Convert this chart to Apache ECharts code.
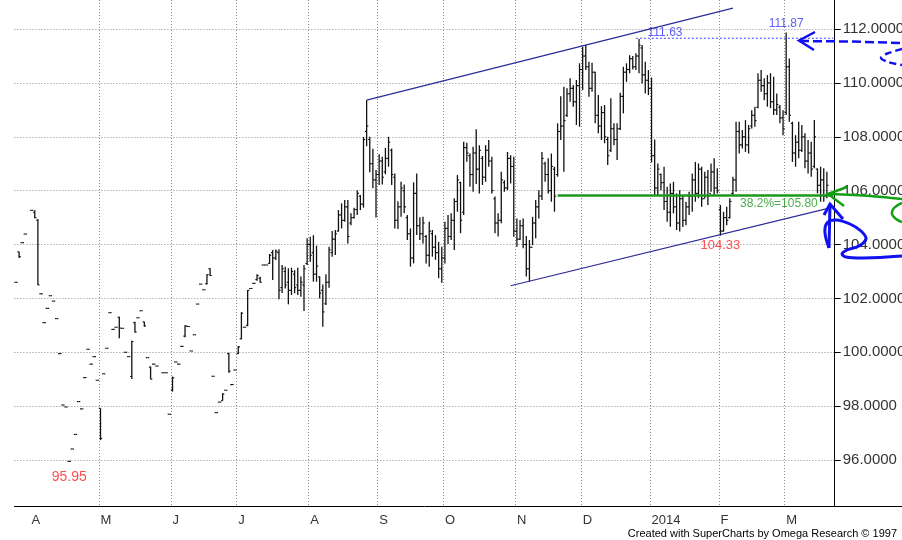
<!DOCTYPE html>
<html>
<head>
<meta charset="utf-8">
<script src="https://cdn.jsdelivr.net/npm/echarts@6/dist/echarts.min.js"></script>
<style>
  html, body { margin: 0; padding: 0; background: #fff; }
  #chart { width: 902px; height: 540px; }
</style>
</head>
<body>
<div id="chart"></div>
<script>
// month labels on the time axis and how many bars fall in each month
const monthLabels = ['', 'A', 'M', 'J', 'J', 'A', 'S', 'O', 'N', 'D', '2014', 'F', 'M'];
const monthBars = [5, 22, 23, 21, 23, 22, 21, 23, 21, 22, 22, 21, 14];

// daily bars (null = no bar that day)
const highs = [
  102.6, 103.73, 104.07, 104.39, null, 105.27, 105.27, 104.95, 102.17, 101.1,
  101.63, 102.1, 101.9, 101.25, 99.95, 98.04, 97.97, 95.95, 96.41, 96.95,
  98.17, 97.9, 99.06, 100.11, 99.56, 99.84, 98.96, 97.92, 99.2, 100.15,
  101.47, 100.85, 100.93, 101.32, 100.89, 100.0, 99.84, 100.43, 101.13, 101.28,
  101.54, 101.13, 99.8, 99.47, 99.56, 99.49, null, 99.24, 99.24, 97.7,
  99.1, 99.64, 99.56, 100.22, 101.0, 100.96, 100.05, 100.65, 101.79, 102.53,
  102.32, 102.9, 103.12, 99.11, 97.76, 98.15, 98.48, 98.59, 99.98, 98.8,
  99.34, 100.23, 101.49, 100.93, 102.31, 102.37, 102.56, 102.9, 102.8, 103.24,
  103.24, 103.65, 103.8, 103.82, 103.83, 103.24, 103.18, 103.12, 103.14, 103.05,
  103.14, 102.81, 103.24, 104.23, 104.29, 104.35, 103.96, 102.81, 102.52, 102.9,
  103.92, 104.5, 104.54, 105.28, 105.53, 105.65, 105.65, 105.16, 105.37, 106.02,
  105.84, 108.0, 109.36, 108.0, 107.56, 106.77, 107.35, 107.26, 107.59, 108.0,
  107.57, 106.64, 105.61, 106.33, 106.23, 105.1, 104.6, 106.31, 106.64, 105.01,
  105.03, 104.35, 104.85, 104.54, 104.35, 104.1, 103.92, 104.85, 105.1, 105.16,
  105.72, 106.58, 106.33, 107.82, 107.78, 107.38, 107.63, 108.28, 107.69, 107.29,
  107.69, 107.88, 107.26, 105.78, 105.16, 106.7, 106.39, 107.44, 107.32, 107.26,
  104.97, 104.91, 104.97, 104.32, 104.17, 105.03, 105.65, 106.02, 107.44, 107.07,
  107.2, 107.38, 106.89, 108.5, 109.51, 109.86, 109.8, 110.17, 109.92, 110.11,
  110.73, 111.34, 111.41, 110.79, 110.75, 110.42, 109.55, 109.14, 109.18, 108.0,
  109.43, 108.5, 108.5, 109.64, 110.6, 110.73, 111.03, 111.0, 111.1, 111.63,
  111.41, 110.79, 110.48, 110.2, 107.9, 107.01, 106.64, 106.89, 106.15, 106.27,
  106.33, 105.9, 106.02, 105.8, 105.59, 105.96, 106.64, 107.07, 107.01, 106.89,
  106.7, 106.77, 107.01, 107.2, 106.83, 105.47, 105.22, 105.4, 105.72, 106.52,
  108.56, 108.56, 108.25, 108.62, 108.44, 108.99, 109.12, 110.36, 110.48, 110.17,
  110.29, 110.36, 110.23, 109.61, 109.18, 108.99, 111.87, 110.91, 108.56, 108.06,
  108.56, 108.44, 108.13, 107.88, 107.82, 108.62, 106.83, 106.89, 106.83, 106.7
];
const lows = [
  102.6, 103.5, 104.07, 104.39, null, 105.27, 104.98, 102.5, 102.17, 101.1,
  101.63, 102.1, 101.9, 101.25, 99.95, 98.04, 97.97, 95.95, 96.41, 96.95,
  98.17, 97.9, 99.06, 100.11, 99.56, 99.84, 98.96, 96.74, 99.2, 100.15,
  101.47, 100.85, 100.93, 100.52, 100.89, 100.0, 99.84, 99.01, 100.73, 101.28,
  101.54, 100.95, 99.8, 99.0, 99.56, 99.49, null, 99.24, 99.24, 97.7,
  98.54, 99.64, 99.56, 100.22, 100.56, 100.96, 100.05, 100.65, 101.79, 102.53,
  102.32, 102.52, 102.83, 99.11, 97.76, 98.15, 98.2, 98.59, 99.24, 98.8,
  99.34, 99.94, 100.48, 100.93, 100.97, 102.37, 102.56, 102.66, 102.58, 103.24,
  103.24, 103.28, 102.68, 103.43, 101.97, 102.2, 102.37, 101.78, 102.13, 102.19,
  102.13, 102.06, 101.53, 103.24, 103.36, 102.62, 102.62, 102.0, 100.95, 101.76,
  102.4, 103.55, 103.61, 104.48, 104.6, 104.85, 104.04, 104.72, 104.97, 105.1,
  105.28, 105.37, 107.65, 106.68, 106.09, 105.0, 106.21, 106.23, 106.61, 106.89,
  106.21, 104.6, 104.58, 105.03, 105.16, 104.17, 103.18, 103.3, 104.35, 104.17,
  104.04, 103.3, 103.18, 103.55, 103.43, 102.75, 102.58, 103.3, 104.02, 104.17,
  103.8, 105.22, 104.42, 105.1, 107.07, 106.15, 105.96, 106.25, 105.9, 106.21,
  106.33, 106.89, 105.9, 104.42, 104.3, 104.79, 105.96, 106.02, 106.27, 104.29,
  103.92, 104.17, 103.86, 102.81, 102.62, 103.98, 104.23, 104.97, 105.65, 106.33,
  105.9, 105.59, 105.22, 106.52, 107.88, 106.7, 108.74, 109.3, 109.12, 108.44,
  108.37, 109.74, 110.48, 109.49, 109.67, 108.5, 108.13, 107.88, 107.76, 106.95,
  107.44, 107.69, 107.14, 108.25, 108.87, 110.04, 110.36, 110.5, 110.48, 110.36,
  109.98, 109.61, 109.55, 107.05, 105.8, 105.84, 106.02, 105.28, 104.85, 104.66,
  105.16, 104.54, 104.48, 104.65, 104.72, 105.1, 105.22, 105.59, 105.72, 105.4,
  105.72, 105.47, 105.96, 105.84, 105.9, 104.33, 104.48, 104.72, 104.97, 105.84,
  105.96, 107.38, 107.57, 107.44, 107.38, 108.31, 108.37, 109.06, 109.67, 109.36,
  109.12, 109.06, 108.81, 108.81, 108.5, 108.06, 108.81, 108.56, 107.07, 106.89,
  107.2, 107.44, 106.83, 106.64, 106.52, 106.83, 105.9, 105.59, 105.59, 105.72
];
const opens = [
  102.6, 103.73, 104.07, 104.39, null, 105.27, 105.2, 104.9, 102.17, 101.1,
  101.63, 102.1, 101.9, 101.25, 99.95, 98.04, 97.97, 95.95, 96.41, 96.95,
  98.17, 97.9, 99.06, 100.11, 99.56, 99.84, 98.96, 97.92, 99.2, 100.15,
  101.47, 100.85, 100.93, 101.3, 100.89, 100.0, 99.84, 99.1, 101.1, 101.28,
  101.54, 101.13, 99.8, 99.45, 99.56, 99.49, null, 99.24, 99.24, 97.7,
  98.6, 99.64, 99.56, 100.22, 100.6, 100.96, 100.05, 100.65, 101.79, 102.53,
  102.32, 102.55, 103.1, 99.11, 97.76, 98.15, 98.2, 98.59, 99.95, 98.8,
  99.34, 99.95, 100.5, 100.93, 101.0, 102.37, 102.56, 102.7, 102.75, 103.24,
  103.24, 103.3, 103.7, 103.5, 103.7, 102.4, 103.0, 102.6, 102.3, 102.9,
  102.5, 102.3, 102.5, 103.3, 104.0, 103.7, 102.9, 102.8, 102.3, 101.8,
  102.6, 103.7, 104.2, 104.5, 105.1, 104.9, 105.4, 104.8, 105.0, 105.3,
  105.8, 105.5, 108.2, 107.9, 107.0, 106.4, 106.6, 107.1, 106.7, 107.2,
  107.5, 106.5, 104.9, 105.4, 106.0, 105.0, 104.4, 103.5, 105.9, 104.7,
  104.4, 104.3, 103.6, 104.4, 103.9, 103.7, 103.1, 103.5, 104.6, 104.3,
  104.9, 105.6, 106.3, 105.2, 107.6, 107.3, 106.6, 107.4, 106.8, 107.2,
  106.5, 107.5, 107.1, 105.7, 104.8, 104.9, 106.3, 106.1, 107.2, 106.9,
  104.5, 104.2, 104.7, 104.0, 103.1, 103.9, 104.8, 105.4, 105.8, 107.0,
  106.6, 106.0, 106.8, 106.6, 108.2, 108.4, 108.8, 109.6, 109.8, 109.3,
  109.9, 110.5, 111.0, 110.6, 109.8, 110.4, 108.8, 108.4, 108.9, 107.9,
  107.5, 108.3, 107.9, 108.3, 109.5, 110.4, 110.5, 110.9, 110.6, 111.0,
  111.3, 110.3, 110.1, 109.8, 107.3, 106.1, 106.6, 106.3, 105.6, 105.2,
  105.9, 105.4, 104.8, 105.7, 104.9, 105.4, 105.8, 106.4, 105.9, 106.8,
  105.7, 106.5, 105.9, 106.7, 106.1, 105.3, 104.5, 105.0, 105.0, 105.9,
  106.4, 108.2, 107.7, 108.0, 107.7, 108.4, 108.8, 109.1, 110.1, 109.9,
  109.6, 110.0, 109.3, 109.0, 109.1, 108.7, 108.9, 110.6, 108.5, 107.4,
  107.8, 107.5, 108.0, 107.1, 107.4, 106.9, 106.8, 106.2, 106.4, 105.8
];
const closes = [
  102.6, 103.55, 104.07, 104.39, null, 105.27, 105.0, 102.5, 102.17, 101.1,
  101.63, 102.1, 101.9, 101.25, 99.95, 98.04, 97.97, 95.95, 96.41, 96.95,
  98.17, 97.9, 99.06, 100.11, 99.56, 99.84, 98.96, 96.8, 99.2, 100.15,
  101.47, 100.85, 100.93, 100.9, 100.89, 100.0, 99.84, 100.4, 100.75, 101.28,
  101.54, 100.98, 99.8, 99.0, 99.56, 99.49, null, 99.24, 99.24, 97.7,
  99.05, 99.64, 99.56, 100.22, 100.98, 100.96, 100.05, 100.65, 101.79, 102.53,
  102.32, 102.88, 102.85, 99.11, 97.76, 98.15, 98.45, 98.59, 99.3, 98.8,
  99.34, 100.2, 101.45, 100.93, 102.3, 102.37, 102.56, 102.85, 102.6, 103.24,
  103.24, 103.6, 103.5, 103.75, 102.3, 103.1, 102.5, 102.3, 103.0, 102.4,
  102.3, 102.6, 103.1, 104.0, 103.6, 102.9, 103.2, 102.2, 101.5, 102.6,
  103.8, 104.2, 104.4, 105.1, 104.9, 105.4, 104.3, 105.0, 105.3, 105.9,
  105.5, 107.9, 108.4, 107.0, 106.4, 106.6, 107.1, 106.5, 107.2, 107.8,
  106.6, 104.9, 105.4, 106.1, 105.4, 104.4, 103.5, 105.9, 104.7, 104.4,
  104.8, 103.6, 104.5, 103.9, 103.7, 103.1, 103.5, 104.6, 104.3, 104.9,
  105.6, 106.4, 104.9, 107.6, 107.4, 106.6, 107.4, 106.8, 107.5, 106.5,
  107.5, 107.1, 106.0, 104.8, 104.9, 106.4, 106.1, 107.2, 106.9, 104.5,
  104.2, 104.7, 104.0, 103.1, 103.9, 104.8, 105.4, 105.8, 107.2, 106.6,
  106.0, 106.9, 105.8, 108.2, 108.4, 108.6, 109.6, 109.8, 109.3, 109.9,
  110.5, 111.0, 110.6, 109.8, 110.4, 108.8, 108.4, 108.9, 108.0, 107.3,
  108.3, 107.9, 108.3, 109.5, 110.4, 110.5, 110.9, 110.6, 111.0, 111.4,
  110.3, 110.1, 109.8, 107.3, 106.1, 106.8, 106.3, 105.6, 105.2, 105.9,
  105.4, 104.8, 105.7, 104.9, 105.4, 105.8, 106.4, 105.9, 106.8, 105.7,
  106.5, 105.8, 106.7, 106.1, 106.0, 104.5, 105.0, 104.9, 105.6, 106.4,
  108.2, 107.7, 108.0, 107.7, 108.3, 108.8, 108.6, 110.1, 109.9, 109.6,
  110.0, 109.3, 109.0, 109.2, 108.7, 108.3, 110.6, 108.8, 107.4, 107.8,
  107.5, 108.0, 107.1, 107.4, 106.8, 108.0, 106.2, 106.4, 105.8, 106.2
];

// trend lines: [bar index, price] pairs
const upperChannel = [[112, 109.36], [229, 112.78]];
const lowerChannel = [[158, 102.47], [261, 105.39]];
const topLine = [[198, 111.66], [261, 111.66]];
const fibLine = [[173, 105.82], [261, 105.82]];

const font = '"Liberation Sans", Arial, sans-serif';
const gridGray = '#8c8c8c';
const clear = 'rgba(0,0,0,0)';

// categories, one per bar plus two empty slots up to the price axis
const categories = [];
const monthStart = {};
monthBars.forEach(function (n, m) {
  monthStart[categories.length] = monthLabels[m];
  for (let k = 0; k < n; k++) categories.push('b' + categories.length);
});
categories.push('e1', 'e2');
delete monthStart[0];
const isMonthStart = function (i) { return monthStart[i] !== undefined; };

const bars = [];
highs.forEach(function (h, i) {
  if (h == null) return;
  bars.push([i, opens[i], h, lows[i], closes[i]]);
});

// split line colours: the first (left edge / bottom edge) and the y top edge stay hidden
const vGridColors = [clear];
for (let k = 0; k < 30; k++) vGridColors.push(gridGray);
const hGridColors = [clear, gridGray, gridGray, gridGray, gridGray, gridGray, gridGray, gridGray, gridGray, gridGray, clear];

const myChart = echarts.init(document.getElementById('chart'));

const option = {
  animation: false,
  title: {
    text: 'Created with SuperCharts by Omega Research \u00a9 1997',
    right: 5, bottom: 1, padding: 0,
    textStyle: { fontSize: 11, fontWeight: 'normal', color: '#000', fontFamily: font }
  },
  grid: [
    { left: 14.4, right: 67.3, top: 0, bottom: 34.2, outerBoundsMode: 'none' },
    { left: 834.7, right: 0, top: 0, bottom: 34.2, outerBoundsMode: 'none' }
  ],
  xAxis: [
    {
      type: 'category', gridIndex: 0, position: 'bottom', data: categories,
      axisLine: { onZero: false, lineStyle: { color: '#000' } },
      axisTick: { interval: function (i) { return i % 4 === 0; }, length: 4, lineStyle: { color: '#000' } },
      axisLabel: { show: false },
      splitLine: { show: true, interval: isMonthStart, lineStyle: { color: vGridColors, type: [1, 2], width: 1 } }
    },
    {
      type: 'category', gridIndex: 0, position: 'bottom', data: categories,
      axisLine: { show: false },
      axisTick: { interval: isMonthStart, length: 7, lineStyle: { color: '#000' } },
      axisLabel: {
        interval: isMonthStart, align: 'left', margin: 8,
        fontSize: 13, color: '#333', fontFamily: font,
        formatter: function (v, i) { return monthStart[i] || ''; }
      },
      splitLine: { show: false }
    },
    {
      type: 'value', gridIndex: 1, min: 0, max: 1,
      axisLine: { show: true, onZero: false, lineStyle: { color: '#000' } },
      axisTick: { show: false }, axisLabel: { show: false }, splitLine: { show: false }
    }
  ],
  yAxis: [
    {
      type: 'value', gridIndex: 0, position: 'right',
      min: 94.3, max: 113.08, splitNumber: 9, minInterval: 2, maxInterval: 2,
      axisLine: { show: true, lineStyle: { color: '#000' } },
      axisTick: { show: true, length: 6, lineStyle: { color: '#000' } },
      axisLabel: {
        margin: 8, fontSize: 15, color: '#333', fontFamily: font,
        showMinLabel: false, showMaxLabel: false,
        formatter: function (v) { return v.toFixed(4); }
      },
      splitLine: { show: true, lineStyle: { color: hGridColors, type: [1, 2], width: 1 } }
    },
    { type: 'value', gridIndex: 1, show: false }
  ],
  series: [
    {
      type: 'custom', xAxisIndex: 0, yAxisIndex: 0,
      encode: { x: 0, y: [1, 2, 3, 4] },
      data: bars,
      renderItem: function (params, api) {
        const i = api.value(0);
        const o = api.coord([i, api.value(1)]);
        const h = api.coord([i, api.value(2)]);
        const l = api.coord([i, api.value(3)]);
        const c = api.coord([i, api.value(4)]);
        const x = h[0];
        const st = { stroke: '#111', lineWidth: 1.3 };
        const tk = { stroke: '#111', lineWidth: 1.1 };
        return {
          type: 'group',
          children: [
            { type: 'line', shape: { x1: x, y1: h[1], x2: x, y2: l[1] }, style: st },
            { type: 'line', shape: { x1: x - 1.7, y1: o[1], x2: x, y2: o[1] }, style: tk },
            { type: 'line', shape: { x1: x, y1: c[1], x2: x + 1.7, y2: c[1] }, style: tk }
          ]
        };
      }
    },
    {
      type: 'line', data: upperChannel, symbol: 'none', silent: true,
      lineStyle: { color: '#2c2c98', width: 1.2 }
    },
    {
      type: 'line', data: lowerChannel, symbol: 'none', silent: true,
      lineStyle: { color: '#2c2c98', width: 1.2 }
    },
    {
      type: 'line', data: topLine, symbol: 'none', silent: true,
      lineStyle: { color: '#3b3bff', width: 1, type: [2, 2] }
    },
    {
      type: 'line', data: fibLine, symbol: 'none', silent: true,
      lineStyle: { color: '#1b991b', width: 2.5 }
    },
    {
      type: 'scatter', symbolSize: 0, silent: true,
      data: [
        { value: [17, 95.95], name: '95.95', label: { distance: 9, fontSize: 14 } },
        { value: [225, 104.33], name: '104.33', label: { distance: 3, fontSize: 13 } }
      ],
      label: {
        show: true, position: 'bottom', formatter: '{b}',
        color: '#ff2020', fontFamily: font
      }
    },
    {
      type: 'scatter', symbolSize: 0, silent: true,
      data: [{ value: [246, 111.87], name: '111.87' }],
      label: {
        show: true, position: 'top', distance: 3, formatter: '{b}',
        color: '#3333ff', fontSize: 12, fontFamily: font
      }
    },
    {
      type: 'scatter', symbolSize: 0, silent: true,
      data: [{ value: [199, 111.63], name: '111.63' }],
      label: {
        show: true, position: 'inside', offset: [26, -6], formatter: '{b}',
        color: '#3333ff', fontSize: 12, fontFamily: font
      }
    },
    {
      type: 'scatter', symbolSize: 0, silent: true,
      data: [{ value: [244, 105.82], name: '38.2%=105.80' }],
      label: {
        show: true, position: 'inside', offset: [-1, 8], formatter: '{b}',
        color: '#1b991b', fontSize: 12, fontFamily: font
      }
    }
  ],
  // freehand pen marks drawn over the chart
  graphic: {
    elements: [
      { type: 'polyline', z: 100, shape: { points: [[800, 41], [850, 41.5], [902, 43]] },
        style: { stroke: '#1010f0', lineWidth: 2.5, lineDash: [9, 4], fill: null } },
      { type: 'polyline', z: 100, shape: { points: [[815, 32], [799, 40.5], [814, 50]] },
        style: { stroke: '#1010f0', lineWidth: 2.5, fill: null } },
      { type: 'polyline', z: 100, shape: { points: [[902, 49], [886, 54], [881, 58], [888, 62], [902, 65]], smooth: 0.3 },
        style: { stroke: '#1010f0', lineWidth: 2.5, lineDash: [7, 4], fill: null } },
      { type: 'polyline', z: 100, shape: { points: [[847, 187], [828, 194], [844, 206]] },
        style: { stroke: '#12a012', lineWidth: 2.5, fill: null } },
      { type: 'polyline', z: 100, shape: { points: [[829, 194], [870, 196], [902, 199]], smooth: 0.3 },
        style: { stroke: '#12a012', lineWidth: 2.5, fill: null } },
      { type: 'polyline', z: 100, shape: { points: [[902, 203], [894, 208], [892, 214], [896, 219], [902, 222]], smooth: 0.4 },
        style: { stroke: '#12a012', lineWidth: 2.5, fill: null } },
      { type: 'polyline', z: 100, shape: { points: [[824, 215], [830, 204], [843, 219]] },
        style: { stroke: '#1010f0', lineWidth: 3, fill: null } },
      { type: 'polyline', z: 100, shape: { points: [[830, 204], [829, 248]] },
        style: { stroke: '#1010f0', lineWidth: 3, fill: null } },
      { type: 'polyline', z: 100, shape: {
          points: [[829, 248], [825, 233], [827, 223], [836, 220], [850, 224], [861, 231], [866, 239],
                   [859, 246], [847, 250], [842, 254], [846, 257], [864, 258], [902, 256]],
          smooth: 0.35 },
        style: { stroke: '#1010f0', lineWidth: 3, fill: null } }
    ]
  }
};

myChart.setOption(option);
</script>
</body>
</html>
